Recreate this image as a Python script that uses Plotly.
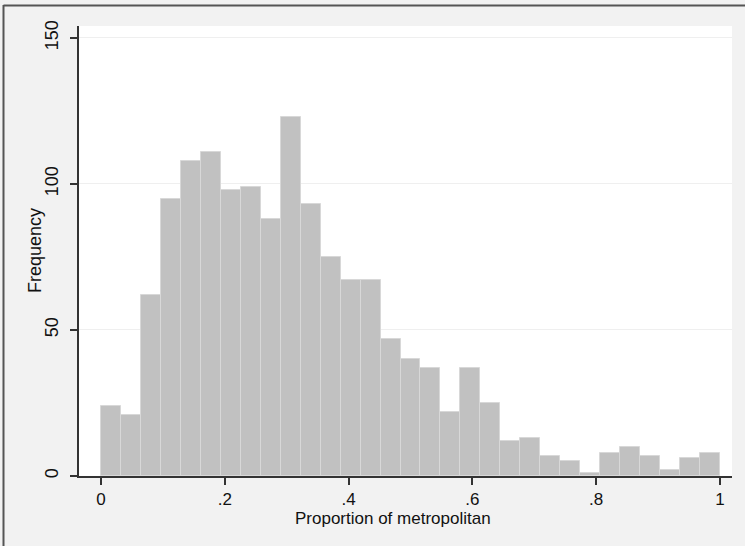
import numpy as np
import plotly.graph_objects as go

# Histogram of "Proportion of metropolitan": 31 bins over [0, 1]
bin_start = 0.0
bin_end = 1.0
n_bins = 31
frequency = [24, 21, 62, 95, 108, 111, 98, 99, 88, 123, 93, 75, 67, 67, 47,
             40, 37, 22, 37, 25, 12, 13, 7, 5, 1, 8, 10, 7, 2, 6, 8]

x_tickvals = [0, 0.2, 0.4, 0.6, 0.8, 1.0]
x_ticktext = ["0", ".2", ".4", ".6", ".8", "1"]
y_tickvals = [0, 50, 100, 150]
y_ticktext = ["0", "50", "100", "150"]

x_title = "Proportion of metropolitan"
y_title = "Frequency"

edges = np.linspace(bin_start, bin_end, n_bins + 1)
width = edges[1] - edges[0]
centers = edges[:-1] + width / 2

FONT = "Liberation Sans, Arial, sans-serif"
AX = "#333333"

fig = go.Figure(go.Bar(
    x=centers, y=frequency, width=width,
    marker=dict(color="#c1c1c1", line=dict(color="#d8d8d8", width=1)),
    hoverinfo="x+y",
))

W, H = 745, 546
L, R, T, B = 79, 13, 26, 70
pw, ph = W - L - R, H - T - B

def px_x(p):
    return (p - L) / pw

def px_y(p):
    return (H - B - p) / ph

fig.update_layout(
    width=W, height=H,
    margin=dict(l=L, r=R, t=T, b=B, pad=0),
    paper_bgcolor="#f2f2f2", plot_bgcolor="#ffffff",
    showlegend=False, bargap=0,
    font=dict(family=FONT, size=17, color="#111111"),
    xaxis=dict(
        range=[-0.03554, 1.01939], tickvals=x_tickvals, ticktext=x_ticktext,
        ticks="outside", ticklen=7, tickwidth=1.5, tickcolor=AX,
        showline=True, linecolor=AX, linewidth=1.6,
        showgrid=False, zeroline=False, automargin=False,
        tickfont=dict(size=17), ticklabelstandoff=0,
    ),
    yaxis=dict(
        range=[0, 154.1], tickvals=y_tickvals, ticktext=y_ticktext,
        ticks="outside", ticklen=7, tickwidth=1.5, tickcolor=AX,
        showline=True, linecolor=AX, linewidth=1.6,
        showgrid=True, gridcolor="#efefef", gridwidth=1,
        zeroline=False, automargin=False, tickangle=-90,
        tickfont=dict(size=18), ticklabelstandoff=5,
    ),
    annotations=[
        dict(text=x_title, xref="paper", yref="paper",
             x=px_x(393), y=px_y(518), xanchor="center", yanchor="middle",
             showarrow=False, font=dict(size=17)),
        dict(text=y_title, xref="paper", yref="paper",
             x=px_x(35), y=0.5, xanchor="center", yanchor="middle",
             textangle=-90, showarrow=False, font=dict(size=18)),
    ],
    shapes=[
        dict(type="line", xref="paper", yref="paper",
             x0=px_x(3.5), x1=px_x(3.5), y0=px_y(5), y1=px_y(560),
             line=dict(color="#555555", width=2)),
        dict(type="line", xref="paper", yref="paper",
             x0=px_x(3.5), x1=px_x(760), y0=px_y(5.5), y1=px_y(5.5),
             line=dict(color="#555555", width=2)),
    ],
)

fig.write_html("out.html")
